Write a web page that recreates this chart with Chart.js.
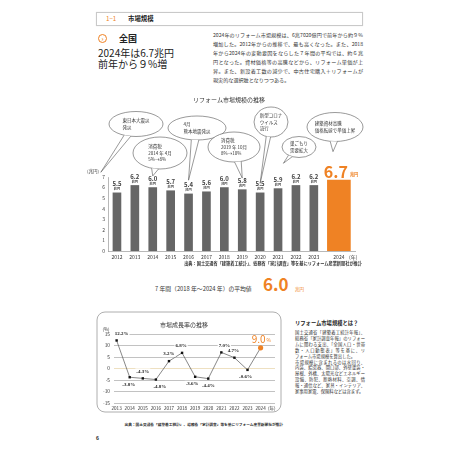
<!DOCTYPE html>
<html>
<head>
<meta charset="utf-8">
<script src="https://cdn.jsdelivr.net/npm/chart.js@4.4.1/dist/chart.umd.min.js"></script>
<style>
body { margin: 0; width: 460px; height: 460px; background: #fff; position: relative; overflow: hidden; font-family: "Noto Sans CJK JP", sans-serif; color: #222; }
.abs { position: absolute; white-space: nowrap; }
.jl { display: block; white-space: nowrap; text-align: justify; text-align-last: justify; }
.nl { display: block; white-space: nowrap; }
canvas { position: absolute; }
</style>
</head>
<body>

<div class="abs" style="left:96px;top:12px;width:265px;height:12px;border:1px solid #c9c9c9;box-shadow:0 0 1px #e0e0e0;"></div>
<div class="abs" style="left:106px;top:14px;font-size:6.2px;line-height:10px;color:#ef8224;">1−1</div>
<div class="abs" style="left:128px;top:14px;font-size:6.4px;line-height:10px;font-weight:bold;">市場規模</div>

<div class="abs" style="left:98px;top:34px;width:7px;height:7px;border:1.6px solid #ef8224;border-radius:50%;font-size:6px;line-height:7px;text-align:center;color:#ef8224;font-weight:bold;">›</div>
<div class="abs" style="left:119px;top:32px;font-size:9px;line-height:14px;font-weight:bold;">全国</div>
<div class="abs" style="left:98px;top:47px;font-size:10px;line-height:11px;">2024年は6.7兆円<br>前年から９%増</div>

<div class="abs" style="left:213px;top:29.5px;width:150px;font-size:5.1px;line-height:9px;color:#333;">
<span class="jl">2024年のリフォーム市場規模は、6兆7020億円で前年から約９%</span>
<span class="jl">増加した。2012年からの推移で、最も高くなった。また、2018</span>
<span class="jl">年から2024年の変動要因をならした７年間の平均では、約６兆</span>
<span class="jl">円となった。資材価格等の高騰などから、リフォーム単価が上</span>
<span class="jl">昇。また、新設着工数の減少で、中古住宅購入＋リフォームが</span>
<span class="nl">現実的な選択肢となりつつある。</span>
</div>

<canvas id="bar" width="285" height="175" style="left:85px;top:95px;"></canvas>

<div class="abs" style="left:177px;top:260px;width:185px;font-size:4.2px;line-height:6px;color:#333;font-weight:bold;text-align:right;">出典：国土交通省「建築着工統計」、総務省「家計調査」等を基にリフォーム産業新聞社が推計</div>

<div class="abs" style="left:155px;top:285px;font-size:5.8px;line-height:8px;color:#333;">7 年間（2018 年〜2024 年）の平均値</div>
<div class="abs" style="left:263px;top:274px;font-size:17px;line-height:20px;color:#ef8224;font-weight:bold;">6.0</div>
<div class="abs" style="left:295px;top:286px;font-size:4.5px;line-height:6px;color:#ef8224;">兆円</div>

<canvas id="rate" width="186" height="102" style="left:96px;top:311px;"></canvas>

<div class="abs" style="left:123px;top:422px;width:160px;font-size:3.7px;line-height:6px;color:#333;font-weight:bold;text-align:right;">出典：国土交通省「建築着工統計」、総務省「家計調査」等を基にリフォーム産業新聞社が推計</div>

<div class="abs" style="left:295px;top:320px;font-size:5.3px;line-height:7px;font-weight:bold;color:#222;">リフォーム市場規模とは？</div>
<div class="abs" style="left:295px;top:330.4px;width:70px;font-size:4.3px;line-height:5.83px;color:#333;">
<span class="jl">国土交通省「建築着工統計年報」、</span>
<span class="jl">総務省「家計調査年報」のリフォー</span>
<span class="jl">ムに関わる支出、「全国人口・世帯</span>
<span class="jl">数・人口動態表」等を基に、リ</span>
<span class="nl">フォーム市場規模を算出した。</span>
<span class="jl">市場規模に含まれるのは水回り、</span>
<span class="jl">内装、給湯器、開口部、外壁塗装・</span>
<span class="jl">屋根、外構、太陽光などエネルギー</span>
<span class="jl">設備、防犯、断熱材料、空調、情</span>
<span class="jl">報・通信など、家具・インテリア、</span>
<span class="nl">家事用家電、保険料などは含まず。</span>
</div>

<div class="abs" style="left:96px;top:434px;font-size:5px;line-height:7px;font-weight:bold;">6</div>

<script>
// market size (trillion yen)
const years = [2012, 2013, 2014, 2015, 2016, 2017, 2018, 2019, 2020, 2021, 2022, 2023, 2024];
const marketSize = [5.5, 6.2, 6.0, 5.7, 5.4, 5.6, 6.0, 5.8, 5.5, 5.9, 6.2, 6.2, 6.7];
const sizeTicks = [0, 1, 2, 3, 4, 5, 6, 7];

// growth rate (%)
const growthYears = [2013, 2014, 2015, 2016, 2017, 2018, 2019, 2020, 2021, 2022, 2023, 2024];
const growthRate = [12.2, -3.8, -4.3, -4.8, 3.2, 6.8, -3.6, -4.4, 7.0, 4.7, -0.6, 9.0];
const rateTicks = [-15, -10, -5, 0, 5, 10, 15];

// events shown in callouts, and the year each one points at
const eventText = [
  ['東日本大震災', '発災'],
  ['消費税', '2014 年 4月', '5%→8%'],
  ['4月', '熊本地震発災'],
  ['消費税', '2019 年 10月', '8%→10%'],
  ['新型コロナ', 'ウイルス', '流行'],
  ['巣ごもり', '需要拡大'],
  ['建築資材高騰', '価格転嫁で単価上昇']
];
const eventYear = [2011, 2014, 2016, 2019, 2020, 2021, 2024];

// callout layout (canvas px) and where each tail stops (value units above the bar)
const bubbles = [
  { cx: 51, cy: 29, rx: 27, ry: 12.5, tipDx: 0.1, tipY: 7.45 },
  { cx: 75, cy: 58, rx: 27, ry: 16, tipDx: 0, tipY: 7.1 },
  { cx: 112, cy: 33, rx: 29, ry: 12, tipDx: 0, tipY: 6.7 },
  { cx: 149, cy: 52, rx: 26, ry: 15, tipDx: 0, tipY: 6.9 },
  { cx: 186, cy: 27, rx: 17, ry: 15, tipDx: 0, tipY: 6.4 },
  { cx: 214, cy: 52, rx: 17, ry: 10.5, tipDx: 0.3, tipY: 8.3 },
  { cx: 250, cy: 32, rx: 28, ry: 14.5, tipDx: -0.33, tipY: 9.4 }
];

const orange = '#ef8224';
const jp = '"Noto Sans CJK JP", sans-serif';
const fnt = (size, weight) => (weight || 'normal') + ' ' + size + 'px ' + jp;
const n = years.length;
const gap = 0.4; // extra space before the highlighted year

function drawBubble(ctx, b, lines, tx, ty) {
  const a = Math.atan2((ty - b.cy) / b.ry, (tx - b.cx) / b.rx);
  const p1 = [b.cx + b.rx * Math.cos(a - 0.13), b.cy + b.ry * Math.sin(a - 0.13)];
  const p2 = [b.cx + b.rx * Math.cos(a + 0.13), b.cy + b.ry * Math.sin(a + 0.13)];
  ctx.lineWidth = 0.6;
  ctx.strokeStyle = '#555';
  ctx.fillStyle = '#fff';
  ctx.beginPath();
  ctx.ellipse(b.cx, b.cy, b.rx, b.ry, 0, 0, Math.PI * 2);
  ctx.fill();
  ctx.stroke();
  ctx.beginPath();
  ctx.moveTo(p1[0], p1[1]); ctx.lineTo(tx, ty); ctx.lineTo(p2[0], p2[1]); ctx.closePath();
  ctx.fill();
  ctx.beginPath();
  ctx.moveTo(p1[0], p1[1]); ctx.lineTo(tx, ty); ctx.lineTo(p2[0], p2[1]);
  ctx.stroke();

  ctx.font = fnt(4.5);
  ctx.fillStyle = '#333';
  ctx.textAlign = 'left';
  ctx.textBaseline = 'middle';
  const w = Math.max(...lines.map(t => ctx.measureText(t).width));
  const lh = 6.5;
  lines.forEach((t, i) => {
    ctx.fillText(t, b.cx - w / 2, b.cy + (i - (lines.length - 1) / 2) * lh);
  });
}

const barDeco = {
  id: 'barDeco',
  afterDatasetsDraw(chart) {
    const ctx = chart.ctx, xs = chart.scales.x, ys = chart.scales.y;
    ctx.save();
    ctx.textAlign = 'center';
    ctx.textBaseline = 'middle';
    ctx.fillStyle = '#333';
    ctx.font = fnt(6);
    ctx.fillText('リフォーム市場規模の推移', 144, 5);
    ctx.font = fnt(4.5);
    ctx.fillStyle = '#444';
    ctx.fillText('(兆円)', 8, 76);

    chart.getDatasetMeta(0).data.forEach((bar, i) => {
      ctx.fillStyle = '#444';
      ctx.font = fnt(6, 'bold');
      ctx.fillText(marketSize[i].toFixed(1), bar.x, bar.y - 9);
      ctx.font = fnt(3.2, 'bold');
      ctx.fillText('兆円', bar.x, bar.y - 3.8);
    });
    const last = chart.getDatasetMeta(1).data[0];
    ctx.fillStyle = orange;
    ctx.textBaseline = 'alphabetic';
    ctx.textAlign = 'right';
    ctx.font = fnt(16, 'bold');
    ctx.fillText(marketSize[n - 1].toFixed(1), last.x + 9, last.y - 2);
    ctx.textAlign = 'left';
    ctx.font = fnt(4.2, 'bold');
    ctx.fillText('兆円', last.x + 11, last.y - 4);

    bubbles.forEach((b, i) => {
      const yr = eventYear[i] + (eventYear[i] === years[n - 1] ? gap : 0) + b.tipDx;
      drawBubble(ctx, b, eventText[i], xs.getPixelForValue(yr), ys.getPixelForValue(b.tipY));
    });
    ctx.restore();
  }
};

const xTickVals = years.map((y, i) => i === n - 1 ? y + gap : y).concat([2025.2]);
const xTickLabels = years.map(String).concat(['(年)']);

new Chart(document.getElementById('bar'), {
  type: 'bar',
  data: {
    datasets: [
      {
        data: years.slice(0, -1).map((y, i) => ({ x: y, y: marketSize[i] })),
        backgroundColor: '#666',
        barThickness: 8,
        grouped: false
      },
      {
        data: [{ x: years[n - 1] + gap, y: marketSize[n - 1] }],
        backgroundColor: orange,
        barThickness: 23,
        grouped: false
      }
    ]
  },
  options: {
    responsive: false,
    animation: false,
    events: [],
    layout: { padding: { top: 82, right: 15, bottom: 9, left: 0 } },
    plugins: { legend: { display: false }, tooltip: { enabled: false } },
    scales: {
      x: {
        type: 'linear',
        min: 2011.5,
        max: 2025.3,
        bounds: 'data',
        offset: false,
        afterBuildTicks: s => { s.ticks = xTickVals.map(v => ({ value: v })); },
        afterFit: s => { s.height = 10; },
        grid: { display: false, drawTicks: false },
        border: { color: '#999', width: 0.7 },
        ticks: {
          autoSkip: false, maxRotation: 0, padding: 3.5,
          font: { size: 5, family: jp }, color: '#333',
          callback: (v, i) => xTickLabels[i]
        }
      },
      y: {
        min: 0,
        max: 7,
        afterBuildTicks: s => { s.ticks = sizeTicks.map(v => ({ value: v })); },
        afterFit: s => { s.width = 23; },
        grid: { display: false, drawTicks: false },
        border: { color: '#999', width: 0.7 },
        ticks: { padding: 3, font: { size: 5, family: jp }, color: '#444' }
      }
    }
  },
  plugins: [barDeco]
});

// growth rate chart
const rateSide = [-1, 1, -1, 1, -1, -1, 1, 1, -1, -1, 1, -1];
const rateDx = [5, -1, 0, 4, 0, -1, -3, 0, 3, -1, -2, -3];
const last = growthRate.length - 1;

const rateDeco = {
  id: 'rateDeco',
  beforeDraw(chart) {
    const ctx = chart.ctx;
    ctx.save();
    ctx.strokeStyle = '#9a9a9a';
    ctx.lineWidth = 0.8;
    ctx.beginPath();
    ctx.roundRect(1, 1, 184, 100, 8);
    ctx.stroke();
    ctx.fillStyle = '#333';
    ctx.font = fnt(6);
    ctx.textAlign = 'center';
    ctx.textBaseline = 'middle';
    ctx.fillText('市場成長率の推移', 88, 14);
    ctx.font = fnt(4.5);
    ctx.fillText('(%)', 10, 18);
    ctx.restore();
  },
  afterDatasetsDraw(chart) {
    const ctx = chart.ctx;
    ctx.save();
    ctx.textAlign = 'center';
    ctx.textBaseline = 'middle';
    chart.getDatasetMeta(0).data.forEach((pt, i) => {
      if (i === last) {
        ctx.fillStyle = orange;
        ctx.font = fnt(10);
        ctx.textAlign = 'right';
        ctx.fillText(growthRate[i].toFixed(1), pt.x + 5, pt.y - 9);
        ctx.font = fnt(5);
        ctx.textAlign = 'left';
        ctx.fillText('%', pt.x + 6, pt.y - 8);
        return;
      }
      const t = growthRate[i].toFixed(1) + '%';
      ctx.font = 'bold 5px "Liberation Serif", serif';
      const w = ctx.measureText(t).width;
      const x = pt.x + rateDx[i], y = pt.y + rateSide[i] * 7;
      ctx.fillStyle = '#fff';
      ctx.fillRect(x - w / 2 - 1, y - 3, w + 2, 6);
      ctx.fillStyle = '#222';
      ctx.fillText(t, x, y);
    });
    ctx.restore();
  }
};

const gxTickVals = growthYears.concat([2024.85]);
const gxTickLabels = growthYears.map(String).concat(['(年)']);

new Chart(document.getElementById('rate'), {
  type: 'line',
  data: {
    datasets: [{
      data: growthYears.map((y, i) => ({ x: y, y: growthRate[i] })),
      borderColor: '#555',
      borderWidth: 0.7,
      tension: 0,
      pointStyle: c => c.dataIndex === last ? 'circle' : 'rect',
      pointRadius: c => c.dataIndex === last ? 2.6 : 1.7,
      pointBackgroundColor: c => c.dataIndex === last ? orange : '#111',
      pointBorderWidth: 0
    }]
  },
  options: {
    responsive: false,
    animation: false,
    events: [],
    layout: { padding: { top: 23, right: 7, bottom: 2, left: 0 } },
    plugins: { legend: { display: false }, tooltip: { enabled: false } },
    scales: {
      x: {
        type: 'linear',
        min: 2012.8,
        max: 2025.1,
        bounds: 'data',
        afterBuildTicks: s => { s.ticks = gxTickVals.map(v => ({ value: v })); },
        afterFit: s => { s.height = 8; },
        grid: { display: false, drawTicks: false },
        border: { display: false },
        ticks: {
          autoSkip: false, maxRotation: 0, padding: 2,
          font: { size: 4.6, family: jp }, color: '#333',
          callback: (v, i) => gxTickLabels[i]
        }
      },
      y: {
        min: -15,
        max: 15,
        afterBuildTicks: s => { s.ticks = rateTicks.map(v => ({ value: v })); },
        afterFit: s => { s.width = 18; },
        grid: {
          drawTicks: false,
          lineWidth: 0.7,
          color: c => c.tick && c.tick.value === 0 ? '#e6d3a6' : '#a8a8a8'
        },
        border: { display: false },
        ticks: { padding: 4, font: { size: 4.8, family: jp }, color: '#333' }
      }
    }
  },
  plugins: [rateDeco]
});
</script>
</body>
</html>
